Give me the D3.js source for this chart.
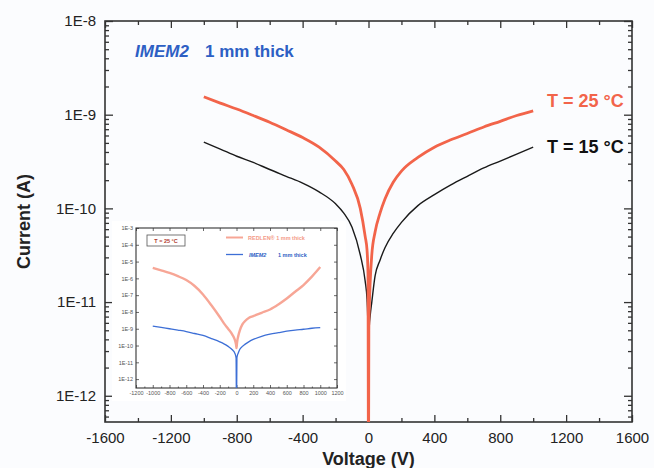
<!DOCTYPE html>
<html>
<head>
<meta charset="utf-8">
<script src="https://cdn.jsdelivr.net/npm/d3@7"></script>
<style>
  body { margin: 0; background: #fbfcfe; }
  svg { display: block; font-family: "Liberation Sans", Arial, sans-serif; }
</style>
</head>
<body>
<div id="chart"></div>
<script>
////////////////////////////////////////////////////////////////////////
// Data

// main plot: voltage (V) and current (A) for the two temperatures
let mainV   = [-1000, -900, -800, -700, -600, -500, -400, -300, -200, -150, -100, -50, -20, -9, -3, 0,
               2, 5, 10, 20, 40, 70, 100, 150, 200, 300, 400, 500, 600, 700, 800, 900, 1000];
let red25   = [1.55e-9, 1.33e-9, 1.15e-9, 9.8e-10, 8.3e-10, 6.9e-10, 5.7e-10, 4.5e-10, 3.2e-10, 2.6e-10,
               1.8e-10, 1.0e-10, 5.0e-11, 3.6e-11, 2.0e-11, 1e-13,
               5e-12, 8.9e-12, 1.6e-11, 3.2e-11, 5.6e-11, 8.9e-11, 1.26e-10, 1.9e-10, 2.5e-10, 3.5e-10,
               4.5e-10, 5.4e-10, 6.3e-10, 7.4e-10, 8.5e-10, 9.8e-10, 1.1e-9];
let black15 = [5.1e-10, 4.3e-10, 3.6e-10, 3.1e-10, 2.6e-10, 2.2e-10, 1.86e-10, 1.5e-10, 1.12e-10, 8.9e-11,
               6.3e-11, 3.2e-11, 1.66e-11, 1.07e-11, 5e-12, 1e-13,
               3.2e-12, 5.6e-12, 7.1e-12, 1e-11, 1.9e-11, 2.8e-11, 3.8e-11, 5.4e-11, 7.1e-11, 1.07e-10,
               1.4e-10, 1.78e-10, 2.2e-10, 2.7e-10, 3.2e-10, 3.8e-10, 4.5e-10];

// inset: REDLEN vs IMEM2 at 25 C
let insetV      = [-1000, -900, -800, -700, -600, -500, -400, -300, -200, -150, -100, -50, -20, -5, 0,
                   5, 10, 20, 40, 70, 100, 150, 200, 300, 400, 500, 600, 700, 800, 900, 1000];
let insetRedlen = [4.2e-6, 3e-6, 2.1e-6, 1.35e-6, 7.9e-7, 3.5e-7, 1.1e-7, 2.5e-8, 5e-9, 2.1e-9, 1e-9,
                   4.5e-10, 2.2e-10, 1.1e-10, 7e-11,
                   1.26e-10, 2e-10, 3.5e-10, 7.9e-10, 1.8e-9, 2.8e-9, 4.5e-9, 5.6e-9, 8.9e-9, 1.4e-8,
                   2.8e-8, 6.3e-8, 1.6e-7, 4e-7, 1.26e-6, 4.7e-6];
let insetImem   = [1.45e-9, 1.2e-9, 1e-9, 8.3e-10, 6.8e-10, 5.2e-10, 4e-10, 2.6e-10, 1.66e-10, 1.26e-10, 8.9e-11,
                   5.6e-11, 3.5e-11, 1.8e-11, 1e-14,
                   1.8e-11, 2.5e-11, 3.5e-11, 6e-11, 8.9e-11, 1.17e-10, 1.7e-10, 2.3e-10, 3.5e-10, 4.7e-10,
                   5.8e-10, 7.1e-10, 8.3e-10, 9.3e-10, 1.07e-9, 1.17e-9];

// ticks
let xMajor = [-1600, -1200, -800, -400, 0, 400, 800, 1200, 1600];
let yDecades = [1e-8, 1e-9, 1e-10, 1e-11, 1e-12];
let yLabels = ["1E-8", "1E-9", "1E-10", "1E-11", "1E-12"];
let insetXTicks = [-1200, -1000, -800, -600, -400, -200, 0, 200, 400, 600, 800, 1000, 1200];
let insetYDecades = [1e-3, 1e-4, 1e-5, 1e-6, 1e-7, 1e-8, 1e-9, 1e-10, 1e-11, 1e-12];
let insetYLabels = ["1E-3", "1E-4", "1E-5", "1E-6", "1E-7", "1E-8", "1E-9", "1E-10", "1E-11", "1E-12"];

////////////////////////////////////////////////////////////////////////
// layout

let W = 654, H = 468;
let pL = 105, pR = 632, pT = 21, pB = 422;
let blue = "#2d5fc4";
let redMain = "#f2644a";
let axisCol = "#333";

let svg = d3.select("#chart").append("svg")
  .attr("width", W).attr("height", H);

let xScale = d3.scaleLinear().domain([-1600, 1600]).range([pL, pR]);
let yScale = d3.scaleLog().domain([Math.pow(10, -12.28), 1e-8]).range([pB, pT]);

// minor tick values
let xMinor = d3.range(-1400, 1600, 400);
let yMinor = [];
for (let e = -13; e <= -9; e++) {
  for (let m = 2; m <= 9; m++) {
    let v = m * Math.pow(10, e);
    if (v > yScale.domain()[0] && v < 1e-8) yMinor.push(v);
  }
}

let defs = svg.append("defs");
defs.append("clipPath").attr("id", "clipMain")
  .append("rect").attr("x", pL).attr("y", pT)
  .attr("width", pR - pL).attr("height", pB - pT);

// axes (ticks point inward)
function styleAxis(g) {
  g.select(".domain").remove();
  g.selectAll("line").attr("stroke", axisCol).attr("stroke-width", 1.3);
  g.selectAll("text").attr("fill", "#222").style("font-size", "15px");
}

svg.append("g").attr("transform", `translate(0,${pB})`)
  .call(d3.axisBottom(xScale).tickValues(xMajor).tickSize(-7).tickSizeOuter(0).tickPadding(10).tickFormat(d => String(d)))
  .call(styleAxis);
svg.append("g").attr("transform", `translate(0,${pB})`)
  .call(d3.axisBottom(xScale).tickValues(xMinor).tickSize(-4).tickSizeOuter(0).tickFormat(""))
  .call(styleAxis);
svg.append("g").attr("transform", `translate(0,${pT})`)
  .call(d3.axisTop(xScale).tickValues(xMajor).tickSize(-7).tickSizeOuter(0).tickFormat(""))
  .call(styleAxis);
svg.append("g").attr("transform", `translate(0,${pT})`)
  .call(d3.axisTop(xScale).tickValues(xMinor).tickSize(-4).tickSizeOuter(0).tickFormat(""))
  .call(styleAxis);

svg.append("g").attr("transform", `translate(${pL},0)`)
  .call(d3.axisLeft(yScale).tickValues(yDecades).tickSize(-8).tickSizeOuter(0).tickPadding(9)
    .tickFormat((d, i) => yLabels[i]))
  .call(styleAxis);
svg.append("g").attr("transform", `translate(${pL},0)`)
  .call(d3.axisLeft(yScale).tickValues(yMinor).tickSize(-4).tickSizeOuter(0).tickFormat(""))
  .call(styleAxis);
svg.append("g").attr("transform", `translate(${pR},0)`)
  .call(d3.axisRight(yScale).tickValues(yDecades).tickSize(-8).tickSizeOuter(0).tickFormat(""))
  .call(styleAxis);
svg.append("g").attr("transform", `translate(${pR},0)`)
  .call(d3.axisRight(yScale).tickValues(yMinor).tickSize(-4).tickSizeOuter(0).tickFormat(""))
  .call(styleAxis);

svg.append("rect")
  .attr("x", pL).attr("y", pT)
  .attr("width", pR - pL).attr("height", pB - pT)
  .attr("fill", "none").attr("stroke", axisCol).attr("stroke-width", 1.6);

// main curves
let line = d3.line()
  .x(d => xScale(d[0]))
  .y(d => yScale(d[1]))
  .curve(d3.curveMonotoneX);

let curves = svg.append("g").attr("clip-path", "url(#clipMain)");
curves.append("path")
  .attr("d", line(mainV.map((v, i) => [v, black15[i]])))
  .attr("fill", "none").attr("stroke", "#1a1a1a").attr("stroke-width", 1.4);
curves.append("path")
  .attr("d", line(mainV.map((v, i) => [v, red25[i]])))
  .attr("fill", "none").attr("stroke", redMain).attr("stroke-width", 2.8);

// labels in main plot
let title = svg.append("text").attr("x", 135).attr("y", 57)
  .attr("fill", blue).style("font-size", "17px").style("font-weight", "bold");
title.append("tspan").style("font-style", "italic").text("IMEM2");
title.append("tspan").attr("x", 205).text("1 mm thick");

svg.append("text").attr("x", 547).attr("y", 107)
  .attr("fill", redMain).style("font-size", "18px").style("font-weight", "bold")
  .text("T = 25 °C");
svg.append("text").attr("x", 547).attr("y", 153)
  .attr("fill", "#111").style("font-size", "18px").style("font-weight", "bold")
  .text("T = 15 °C");

svg.append("text").attr("x", (pL + pR) / 2).attr("y", 465)
  .attr("text-anchor", "middle").attr("fill", "#222")
  .style("font-size", "18px").style("font-weight", "bold")
  .text("Voltage (V)");
svg.append("text")
  .attr("transform", `translate(30,${(pT + pB) / 2}) rotate(-90)`)
  .attr("text-anchor", "middle").attr("fill", "#222")
  .style("font-size", "18px").style("font-weight", "bold")
  .text("Current (A)");

////////////////////////////////////////////////////////////////////////
// inset

let iL = 136, iR = 337, iT = 228, iB = 388;
let ix = d3.scaleLinear().domain([-1200, 1200]).range([iL, iR]);
let iy = d3.scaleLog().domain([Math.pow(10, -12.53), 1e-3]).range([iB, iT]);

let inset = svg.append("g");
inset.append("rect").attr("x", 112).attr("y", 221).attr("width", 234).attr("height", 180).attr("fill", "#fff");

defs.append("clipPath").attr("id", "clipInset")
  .append("rect").attr("x", iL).attr("y", iT).attr("width", iR - iL).attr("height", iB - iT);

function styleInset(g) {
  g.select(".domain").remove();
  g.selectAll("line").attr("stroke", "#444").attr("stroke-width", 0.8);
  g.selectAll("text").attr("fill", "#555").style("font-size", "5.5px");
}

let insetXMinor = d3.range(-1100, 1200, 200);

inset.append("g").attr("transform", `translate(0,${iB})`)
  .call(d3.axisBottom(ix).tickValues(insetXTicks).tickSize(-3).tickSizeOuter(0).tickPadding(3).tickFormat(d => String(d)))
  .call(styleInset);
inset.append("g").attr("transform", `translate(0,${iB})`)
  .call(d3.axisBottom(ix).tickValues(insetXMinor).tickSize(-1.5).tickSizeOuter(0).tickFormat(""))
  .call(styleInset);
inset.append("g").attr("transform", `translate(0,${iT})`)
  .call(d3.axisTop(ix).tickValues(insetXTicks).tickSize(-3).tickSizeOuter(0).tickFormat(""))
  .call(styleInset);
inset.append("g").attr("transform", `translate(${iL},0)`)
  .call(d3.axisLeft(iy).tickValues(insetYDecades).tickSize(-3).tickSizeOuter(0).tickPadding(3)
    .tickFormat((d, i) => insetYLabels[i]))
  .call(styleInset);
inset.append("g").attr("transform", `translate(${iR},0)`)
  .call(d3.axisRight(iy).tickValues(insetYDecades).tickSize(-3).tickSizeOuter(0).tickFormat(""))
  .call(styleInset);

inset.append("rect")
  .attr("x", iL).attr("y", iT).attr("width", iR - iL).attr("height", iB - iT)
  .attr("fill", "none").attr("stroke", "#333").attr("stroke-width", 1.1);

let iline = d3.line()
  .x(d => ix(d[0]))
  .y(d => iy(d[1]))
  .curve(d3.curveMonotoneX);

let icurves = inset.append("g").attr("clip-path", "url(#clipInset)");
icurves.append("path")
  .attr("d", iline(insetV.map((v, i) => [v, insetRedlen[i]])))
  .attr("fill", "none").attr("stroke", "#f7a696").attr("stroke-width", 2.4);
icurves.append("path")
  .attr("d", iline(insetV.map((v, i) => [v, insetImem[i]])))
  .attr("fill", "none").attr("stroke", "#3d6fd6").attr("stroke-width", 1.3);

// inset legend
inset.append("rect").attr("x", 147).attr("y", 235).attr("width", 38).attr("height", 11)
  .attr("fill", "#fff").attr("stroke", "#555").attr("stroke-width", 0.8);
inset.append("text").attr("x", 166).attr("y", 242.5).attr("text-anchor", "middle")
  .attr("fill", "#b03a2e").style("font-size", "5.5px").style("font-weight", "bold")
  .text("T = 25 °C");

inset.append("line").attr("x1", 226).attr("x2", 243).attr("y1", 237.5).attr("y2", 237.5)
  .attr("stroke", "#f7a696").attr("stroke-width", 2);
inset.append("text").attr("x", 248).attr("y", 239.5)
  .attr("fill", "#f49a88").style("font-size", "5.5px").style("font-weight", "bold")
  .text("REDLEN® 1 mm thick");

inset.append("line").attr("x1", 226).attr("x2", 243).attr("y1", 254.5).attr("y2", 254.5)
  .attr("stroke", "#3d6fd6").attr("stroke-width", 1.3);
let ileg = inset.append("text").attr("x", 249).attr("y", 256.5)
  .attr("fill", blue).style("font-size", "5.5px").style("font-weight", "bold");
ileg.append("tspan").style("font-style", "italic").text("IMEM2");
ileg.append("tspan").attr("x", 278).text("1 mm thick");
</script>
</body>
</html>
